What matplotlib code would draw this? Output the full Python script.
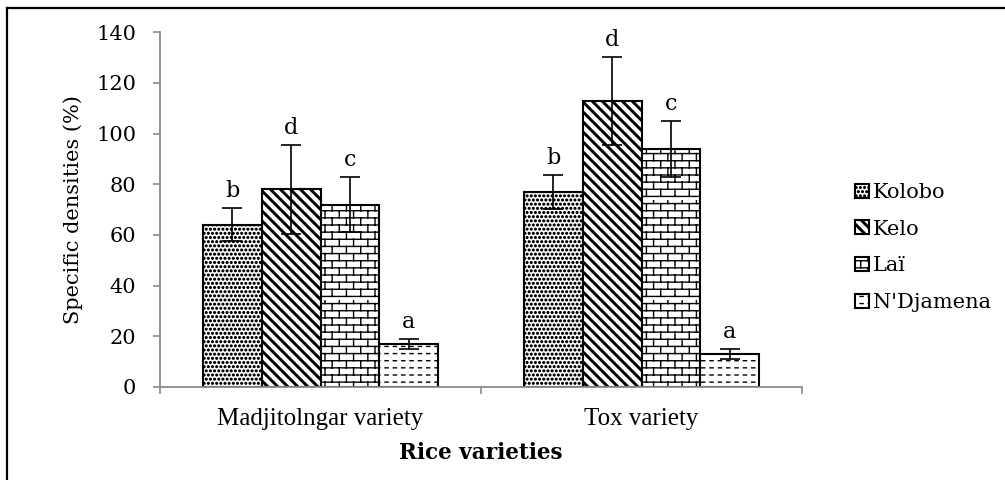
import numpy as np
import matplotlib
matplotlib.use("Agg")
import matplotlib.pyplot as plt
from matplotlib import hatch as mhatch
from matplotlib.path import Path
from matplotlib.lines import Line2D

# ---------------- data ----------------
categories = ["Madjitolngar variety", "Tox variety"]
series_names = ["Kolobo", "Kelo", "Laï", "N'Djamena"]
kolobo = [64, 77]
kelo = [78, 113]
lai = [72, 94]
ndjamena = [17, 13]
kolobo_err = [6.5, 6.6]
kelo_err = [17.5, 17.4]
lai_err = [11, 11]
ndjamena_err = [2, 2]
kolobo_letters = ["b", "b"]
kelo_letters = ["d", "d"]
lai_letters = ["c", "c"]
ndjamena_letters = ["a", "a"]
yticks = [0, 20, 40, 60, 80, 100, 120, 140]
xlabel = "Rice varieties"
ylabel = "Specific densities (%)"

# ---------------- custom hatch patterns ----------------
class StripeHatch(mhatch.HatchPatternBase):
    """thick '\\' stripes, triggered by 'o'"""
    def __init__(self, hatch, density):
        self.n = 10 if 'o' in hatch else 0
        self.num_vertices = 5 * (3 * self.n + 1) if self.n else 0

    def set_vertices_and_codes(self, vertices, codes):
        n = self.n
        t = 0.022
        k = 0
        for i in range(-n, 2 * n + 1):
            c = i / n
            vertices[k:k + 5] = [(c + 1, -1), (c - 2, 2), (c - 2 + t, 2),
                                 (c + 1 + t, -1), (c + 1, -1)]
            codes[k:k + 5] = [Path.MOVETO, Path.LINETO, Path.LINETO,
                              Path.LINETO, Path.CLOSEPOLY]
            k += 5


class BrickHatch(mhatch.HatchPatternBase):
    """brick wall, triggered by '*'"""
    def __init__(self, hatch, density):
        on = '*' in hatch
        self.rows = 14 if on else 0
        self.cols = 7 if on else 0
        self.num_vertices = (self.rows + self.rows * self.cols) * 2 if on else 0

    def set_vertices_and_codes(self, vertices, codes):
        rows, cols = self.rows, self.cols
        h = 1.0 / rows
        w = 1.0 / cols
        k = 0
        for r in range(rows):
            y = r * h + h / 2
            vertices[k] = (0, y)
            vertices[k + 1] = (1, y)
            codes[k] = Path.MOVETO
            codes[k + 1] = Path.LINETO
            k += 2
        for r in range(rows):
            off = 0.0 if r % 2 == 0 else w / 2
            y0 = r * h + h / 2
            for c in range(cols):
                x = c * w + off + w / 4
                vertices[k] = (x, y0)
                vertices[k + 1] = (x, y0 + h)
                codes[k] = Path.MOVETO
                codes[k + 1] = Path.LINETO
                k += 2


class DashHatch(mhatch.HatchPatternBase):
    """horizontal dashed lines, triggered by 'O'"""
    def __init__(self, hatch, density):
        on = 'O' in hatch
        self.rows = 14 if on else 0
        self.cols = 12 if on else 0
        self.num_vertices = self.rows * self.cols * 2 if on else 0

    def set_vertices_and_codes(self, vertices, codes):
        rows, cols = self.rows, self.cols
        h = 1.0 / rows
        w = 1.0 / cols
        k = 0
        for r in range(rows):
            y = r * h + h / 2
            for c in range(cols):
                x = c * w + w * 0.2
                vertices[k] = (x, y)
                vertices[k + 1] = (x + w * 0.38, y)
                codes[k] = Path.MOVETO
                codes[k + 1] = Path.LINETO
                k += 2


new_types = []
for ht in mhatch._hatch_types:
    if ht is mhatch.SmallCircles:
        new_types.append(StripeHatch)
    elif ht is mhatch.LargeCircles:
        new_types.append(DashHatch)
    elif ht is mhatch.Stars:
        new_types.append(BrickHatch)
    else:
        new_types.append(ht)
mhatch._hatch_types[:] = new_types
mhatch.SmallFilledCircles.size = 0.2

# ---------------- figure ----------------
main_font = ['DejaVu Serif']
times_font = ['Liberation Serif', 'DejaVu Serif']
plt.rcParams['font.family'] = main_font
plt.rcParams['hatch.color'] = 'black'
plt.rcParams['hatch.linewidth'] = 1.0

W, H = 1005, 480
fig = plt.figure(figsize=(W / 100, H / 100), dpi=100)
ax = fig.add_axes([160 / W, 93 / H, (802 - 160) / W, (387 - 32.3) / H])

values = [kolobo, kelo, lai, ndjamena]
errors = [kolobo_err, kelo_err, lai_err, ndjamena_err]
letters = [kolobo_letters, kelo_letters, lai_letters, ndjamena_letters]
hatches = ['....', 'o', '*', 'O']

x = np.arange(len(categories)) + 0.5
bw = 0.183
axis_gray = '#8a8a8a'

for i, (name, vals, errs, lets, hp) in enumerate(zip(series_names, values, errors, letters, hatches)):
    xi = x + (i - 1.5) * bw
    ax.bar(xi, vals, width=bw, color='white', edgecolor='black',
           linewidth=1.5, hatch=hp, label=name, zorder=2)
    ax.errorbar(xi, vals, yerr=errs, fmt='none', ecolor='black',
                elinewidth=1.2, capsize=7, capthick=1.2, zorder=3)
    for xx, v, e, l in zip(xi, vals, errs, lets):
        ax.annotate(l, (xx, v + e), xytext=(0, 8), textcoords='offset points',
                    ha='center', va='baseline', fontsize=16)

ax.set_xlim(0, len(categories))
ax.set_ylim(0, 140)
ax.set_yticks(yticks)
ax.set_xticks(x)
ax.set_xticklabels(categories, fontsize=18, family=times_font)
ax.set_xticks(np.arange(len(categories) + 1), minor=True)
ax.tick_params(axis='x', which='major', length=0, pad=15)
ax.tick_params(axis='x', which='minor', length=5, width=1.2, color=axis_gray)
ax.tick_params(axis='y', length=5, width=1.2, color=axis_gray, pad=12, labelsize=15)

for s in ['top', 'right']:
    ax.spines[s].set_visible(False)
for s in ['left', 'bottom']:
    ax.spines[s].set_color(axis_gray)
    ax.spines[s].set_linewidth(1.3)

fig.text(73 / W, 1 - 210 / H, ylabel, rotation=90, ha='center', va='center', fontsize=15)
fig.text(481 / W, 1 - 453 / H, xlabel, ha='center', va='center', fontsize=15.5, fontweight='bold')

fig.legend(loc='center left', bbox_to_anchor=(855 / W, 1 - 247.5 / H),
           frameon=False, fontsize=15, handlelength=0.65, handleheight=0.65,
           handletextpad=0.2, labelspacing=0.85, borderpad=0, borderaxespad=0)

# outer frame (left and top edges visible)
fig.add_artist(Line2D([7 / W, 7 / W], [0, 1 - 8 / H], color='black', lw=1.6,
                      transform=fig.transFigure))
fig.add_artist(Line2D([7 / W, 1], [1 - 8 / H, 1 - 8 / H], color='black', lw=1.6,
                      transform=fig.transFigure))

fig.savefig('out.png', dpi=100)
